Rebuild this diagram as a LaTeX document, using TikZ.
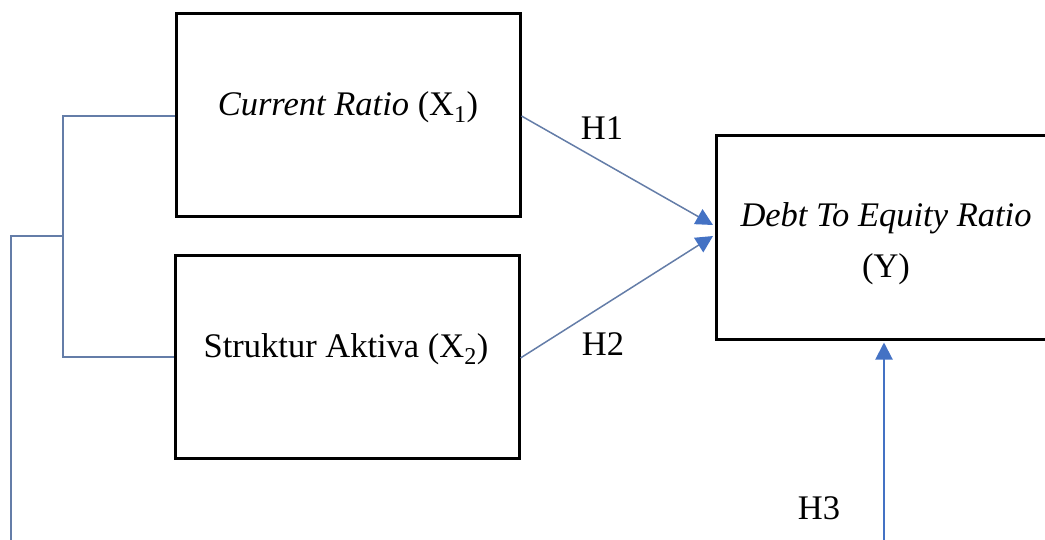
\documentclass[tikz,border=0pt]{standalone}
\usepackage{fontspec}
\setmainfont{Liberation Serif}
\usetikzlibrary{arrows.meta,calc}
\definecolor{connc}{RGB}{100,125,168}
\definecolor{tipblue}{RGB}{68,114,196}
\begin{document}
\begin{tikzpicture}[x=1pt,y=-1pt,
  box/.style={draw=black,line width=2.5pt,minimum width=344pt,minimum height=203pt,inner sep=0pt,anchor=north west},
  txt/.style={font=\fontsize{34.5}{41}\selectfont,anchor=base,inner sep=0pt},
  conn/.style={draw=connc,line width=1.5pt},
  arr/.style={conn,-{Triangle[length=17pt,width=17pt,color=tipblue]}}]
\useasboundingbox (0,0) rectangle (1045,539);
\clip (0,0) rectangle (1045,539);
% boxes
\node[box] (b1) at (175,12) {};
\node[box] (b2) at (174,254) {};
\node[box,minimum width=342pt,minimum height=204pt] (by) at (715,134) {};
% texts
\node[txt] (t1) at (348,115) {\textit{Current Ratio} (X\textsubscript{1})};
\node[txt] (t2) at (346,357) {Struktur Aktiva (X\textsubscript{2})};
\node[txt] (ty1) at (886,226) {\textit{Debt To Equity Ratio}};
\node[txt] (ty2) at (886,277) {(Y)};
% labels
\node[txt] (h1) at (602,139) {H1};
\node[txt] (h2) at (603,355) {H2};
\node[txt] (h3) at (819,519) {H3};
% connectors
\coordinate (j2) at (63,357);
\coordinate (jm) at (63,236);
\coordinate (lb) at (11,545);
\coordinate (h3s) at (884,545);
\draw[conn] ($(b1.north west)+(0,104)$) -| (j2) -- ($(b2.north west)+(0,103)$);
\draw[conn] (jm) -| (lb);
\draw[arr] ($(b1.north east)+(0,104)$) -- ($(by.north west)+(-2,91)$);
\draw[arr] ($(b2.north east)+(0,104)$) -- ($(by.north west)+(-2,102)$);
\draw[arr,draw=tipblue,line width=2pt] (h3s) -- ($(h3s |- by.south)+(0,2)$);
\end{tikzpicture}
\end{document}
